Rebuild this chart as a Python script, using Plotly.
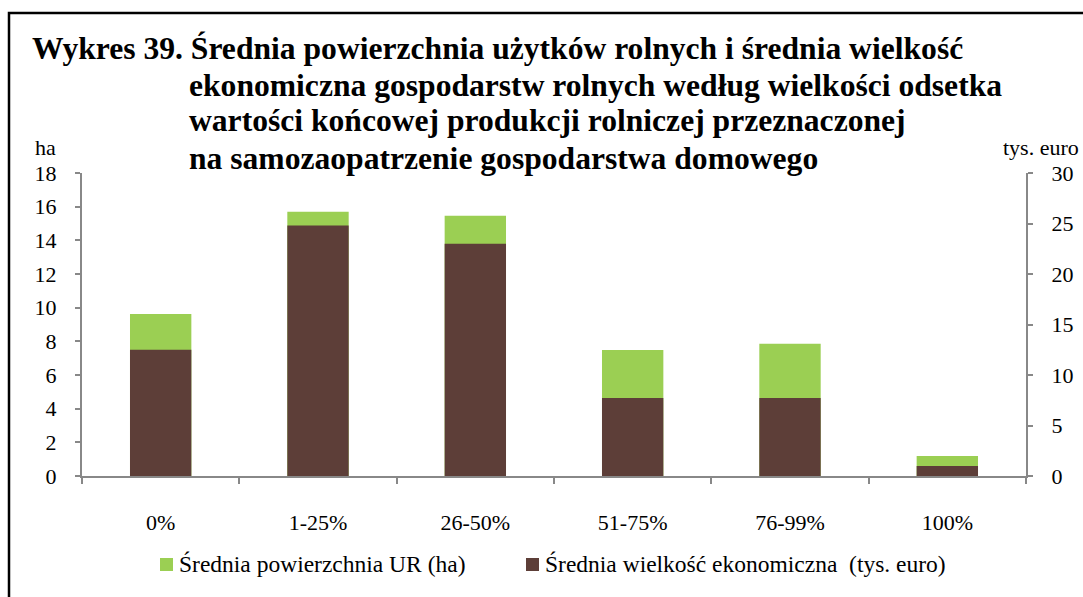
import plotly.graph_objects as go

# Data
categories = ["0%", "1-25%", "26-50%", "51-75%", "76-99%", "100%"]
area_ha = [9.63, 15.7, 15.46, 7.49, 7.85, 1.19]          # średnia powierzchnia UR (ha)
econ_size = [12.5, 24.8, 23.0, 7.73, 7.73, 0.99]         # średnia wielkość ekonomiczna (tys. euro)
left_ticks = [0, 2, 4, 6, 8, 10, 12, 14, 16, 18]
right_ticks = [0, 5, 10, 15, 20, 25, 30]
series_names = ["Średnia powierzchnia UR (ha)", "Średnia wielkość ekonomiczna  (tys. euro)"]

title_lines = [
    "Wykres 39. Średnia powierzchnia użytków rolnych i średnia wielkość",
    "ekonomiczna gospodarstw rolnych według wielkości odsetka",
    "wartości końcowej produkcji rolniczej przeznaczonej",
    "na samozaopatrzenie gospodarstwa domowego",
]

GREEN = "#9BCF53"
BROWN = "#5D3E38"
AXIS = "#888888"
FONT = "Liberation Serif, Times New Roman, DejaVu Serif"

W, H = 1083, 597
L, R, T, B = 82, 57, 173, 121
PW, PH = W - L - R, H - T - B


def px_x(x):
    return (x - L) / PW


def px_y(y):
    return 1 + (T - y) / PH


fig = go.Figure()
fig.add_trace(go.Bar(
    x=categories, y=area_ha, name=series_names[0],
    marker=dict(color=GREEN, line=dict(width=0)), width=0.39, yaxis="y",
))
fig.add_trace(go.Bar(
    x=categories, y=econ_size, name=series_names[1],
    marker=dict(color=BROWN, line=dict(width=0)), width=0.39, yaxis="y2",
))

tick_font = dict(family=FONT, size=22, color="black")
axis_common = dict(
    showgrid=False, zeroline=False, showline=True, linecolor=AXIS, linewidth=2,
    ticks="outside", tickcolor=AXIS, tickwidth=2, tickfont=tick_font,
)

fig.update_layout(
    template=None,
    width=W, height=H,
    margin=dict(l=L, r=R, t=T, b=B, pad=0),
    paper_bgcolor="white", plot_bgcolor="white",
    barmode="overlay",
    showlegend=False,
    font=dict(family=FONT, size=22, color="black"),
    xaxis=dict(
        **axis_common, type="category", ticklen=6, tickson="boundaries",
        ticklabelstandoff=26,
    ),
    yaxis=dict(
        **axis_common, ticklen=5, range=[0, 18], tickvals=left_ticks, ticklabelstandoff=14,
    ),
    yaxis2=dict(
        **axis_common, ticklen=5, range=[0, 30], tickvals=right_ticks, overlaying="y",
        side="right", ticklabelstandoff=14,
    ),
)

# Title block
line_x = [30, 187, 187, 187]
line_y = [48, 85, 121, 158]
for txt, xx, yy in zip(title_lines, line_x, line_y):
    fig.add_annotation(
        text=f"<b>{txt}</b>", xref="paper", yref="paper", x=px_x(xx),
        y=px_y(yy), xanchor="left", yanchor="middle", showarrow=False,
        font=dict(family=FONT, size=31.6, color="black"),
    )

# Axis unit labels
fig.add_annotation(
    text="ha", xref="paper", yref="paper", x=px_x(45),
    y=px_y(147), xanchor="center", yanchor="middle", showarrow=False,
    font=dict(family=FONT, size=22, color="black"),
)
fig.add_annotation(
    text="tys. euro", xref="paper", yref="paper", x=px_x(1081),
    y=px_y(147), xanchor="right", yanchor="middle", showarrow=False,
    font=dict(family=FONT, size=22, color="black"),
)

# Legend below the axis: colour key squares with serif labels
legend_items = [(series_names[0], GREEN, 160), (series_names[1], BROWN, 526)]
for name, color, x0 in legend_items:
    fig.add_shape(
        type="rect", xref="paper", yref="paper",
        x0=px_x(x0), x1=px_x(x0 + 13), y0=px_y(571), y1=px_y(558),
        line=dict(width=0), fillcolor=color,
    )
    fig.add_annotation(
        text=name, xref="paper", yref="paper", x=px_x(x0 + 17),
        y=px_y(564), xanchor="left", yanchor="middle", showarrow=False,
        font=dict(family=FONT, size=23.5, color="black"),
    )

# Frame around the chart (top and left edges visible)
fig.add_shape(
    type="rect", xref="paper", yref="paper",
    x0=px_x(9), x1=px_x(W + 20),
    y0=-(B + 20) / PH, y1=px_y(13),
    line=dict(color="black", width=2.5), fillcolor="rgba(0,0,0,0)", layer="below",
)

fig.write_html("out.html")
